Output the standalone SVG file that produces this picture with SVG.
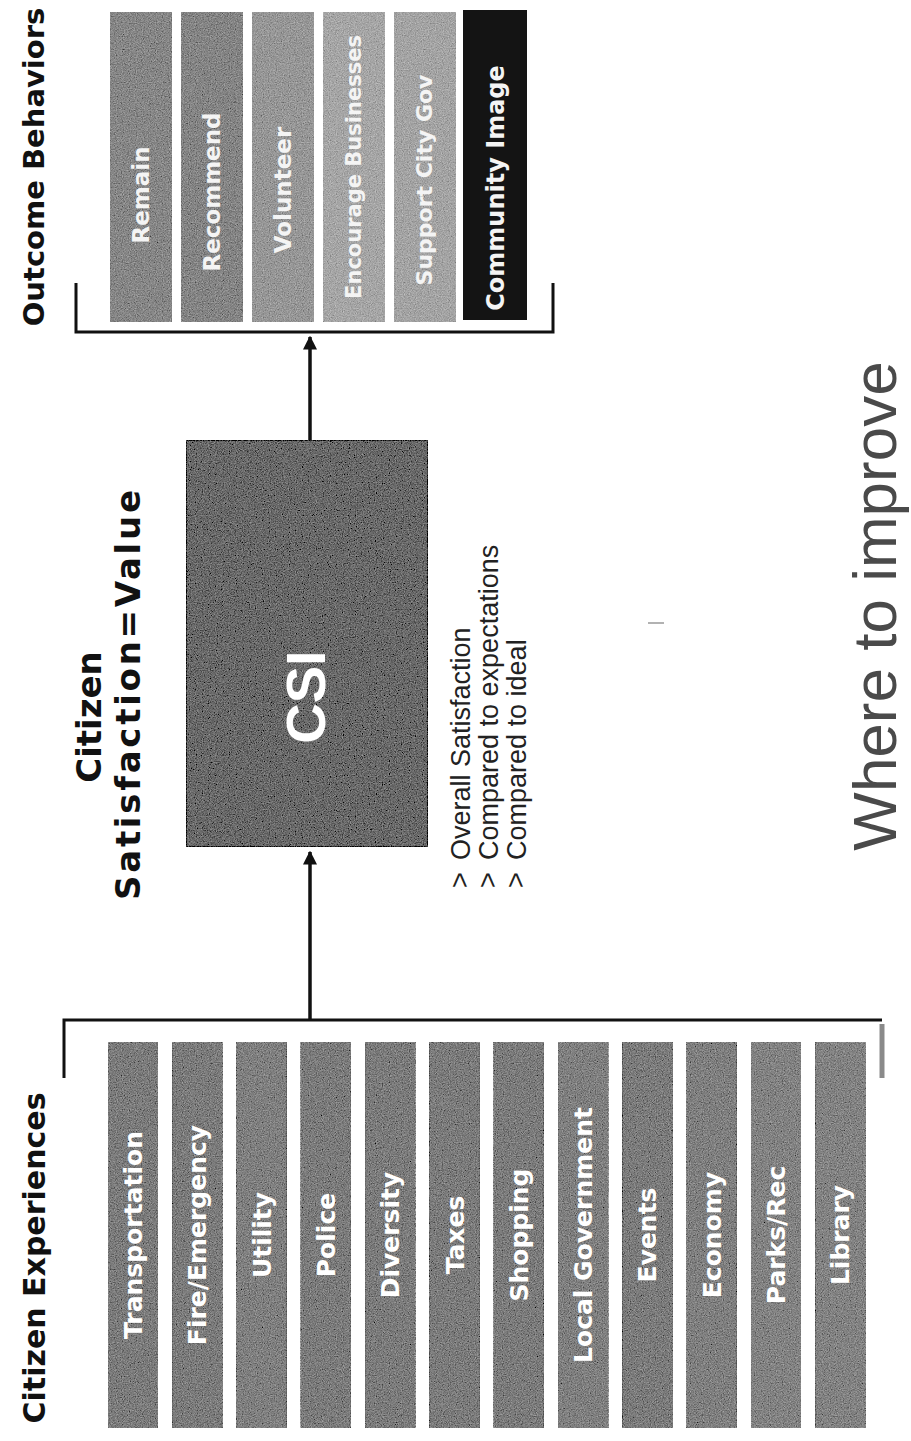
<svg xmlns="http://www.w3.org/2000/svg" width="911" height="1441" viewBox="0 0 911 1441">
<defs>
<filter id="grain" x="0" y="0" width="100%" height="100%">
<feTurbulence type="fractalNoise" baseFrequency="0.85" numOctaves="2" seed="7" result="n"/>
<feColorMatrix in="n" type="matrix" values="0.33 0.33 0.33 0 0 0.33 0.33 0.33 0 0 0.33 0.33 0.33 0 0 0 0 0 0 1" result="g"/>
<feComposite in="SourceGraphic" in2="g" operator="arithmetic" k1="0" k2="1" k3="0.8" k4="-0.4"/>
</filter>
<marker id="arr" viewBox="0 0 10 10" refX="9" refY="5" markerWidth="4" markerHeight="4" orient="auto" markerUnits="strokeWidth">
<path d="M0,0 L10,5 L0,10 z" fill="#111"/>
</marker>
</defs>
<style>
.title{font-family:"DejaVu Sans",Verdana,sans-serif;font-weight:bold;font-size:29px;fill:#111;text-anchor:middle}
.bar{filter:url(#grain)}
.lbl{font-family:"DejaVu Sans",Verdana,sans-serif;font-weight:bold;font-size:25px;fill:#fff;text-anchor:middle}
.olbl{font-family:"DejaVu Sans",Verdana,sans-serif;font-weight:bold;font-size:23px;fill:#f4f4f4;text-anchor:middle}
.bul{font-family:"Liberation Sans",Arial,sans-serif;font-size:27px;fill:#222}
.line{stroke:#111;stroke-width:3;fill:none}
.arrow{stroke:#111;stroke-width:3.5;fill:none;marker-end:url(#arr)}
</style>
<rect width="911" height="1441" fill="#ffffff"/>

<g id="titles">
<text class="title" transform="translate(44,167) rotate(-90)">Outcome Behaviors</text>
<text class="title" style="font-size:34px" transform="translate(101,717) rotate(-90)">Citizen</text>
<text class="title" style="font-size:34px" transform="translate(140,695) rotate(-90)" textLength="410" lengthAdjust="spacing">Satisfaction=Value</text>
<text class="title" style="font-size:30px" transform="translate(45,1258) rotate(-90)">Citizen Experiences</text>
</g>

<g id="outcomes">
<g id="o-remain"><rect class="bar" x="110" y="12" width="62" height="310" fill="#878787"/><text class="olbl" transform="translate(149,195) rotate(-90)">Remain</text></g>
<g id="o-recommend"><rect class="bar" x="181" y="12" width="62" height="310" fill="#858585"/><text class="olbl" transform="translate(220,192) rotate(-90)">Recommend</text></g>
<g id="o-volunteer"><rect class="bar" x="252" y="12" width="62" height="310" fill="#979797"/><text class="olbl" transform="translate(291,190) rotate(-90)">Volunteer</text></g>
<g id="o-encourage"><rect class="bar" x="323" y="12" width="62" height="310" fill="#a6a6a6"/><text class="olbl" style="font-size:21px" transform="translate(361,167) rotate(-90)" fill="#e6e6e6">Encourage Businesses</text></g>
<g id="o-support"><rect class="bar" x="394" y="12" width="62" height="310" fill="#a4a4a4"/><text class="olbl" style="font-size:22px" transform="translate(432,180) rotate(-90)" fill="#e6e6e6">Support City Gov</text></g>
<g id="o-community"><rect x="463" y="10" width="64" height="310" fill="#141414"/><text class="olbl" style="font-size:24px" transform="translate(504,188) rotate(-90)" fill="#ffffff">Community Image</text></g>
</g>

<g id="csi">
<rect class="bar" x="186" y="440" width="242" height="407" fill="#6a6a6a" stroke="#222" stroke-width="2"/>
<text transform="translate(325,697) rotate(-90)" font-family="Liberation Sans, Arial, sans-serif" font-weight="bold" font-size="56" fill="#ffffff" text-anchor="middle">CSI</text>
</g>

<g id="csi-notes">
<text class="bul" font-size="20" transform="translate(469,880) rotate(-90)" text-anchor="middle">&gt;</text>
<text class="bul" transform="translate(470,860) rotate(-90)">Overall Satisfaction</text>
<text class="bul" font-size="20" transform="translate(497,880) rotate(-90)" text-anchor="middle">&gt;</text>
<text class="bul" transform="translate(498,860) rotate(-90)">Compared to expectations</text>
<text class="bul" font-size="20" transform="translate(525,880) rotate(-90)" text-anchor="middle">&gt;</text>
<text class="bul" transform="translate(526,860) rotate(-90)">Compared to ideal</text>
</g>

<g id="experiences">
<g id="e1"><rect class="bar" x="108" y="1042" width="50" height="386" fill="#7c7c7c"/><text class="lbl" transform="translate(142,1235) rotate(-90)">Transportation</text></g>
<g id="e2"><rect class="bar" x="172.3" y="1042" width="50" height="386" fill="#7c7c7c"/><text class="lbl" transform="translate(206.3,1235) rotate(-90)">Fire/Emergency</text></g>
<g id="e3"><rect class="bar" x="236.6" y="1042" width="50" height="386" fill="#808080"/><text class="lbl" transform="translate(270.6,1235) rotate(-90)">Utility</text></g>
<g id="e4"><rect class="bar" x="300.9" y="1042" width="50" height="386" fill="#7c7c7c"/><text class="lbl" transform="translate(334.9,1235) rotate(-90)">Police</text></g>
<g id="e5"><rect class="bar" x="365.2" y="1042" width="50" height="386" fill="#7c7c7c"/><text class="lbl" transform="translate(399.2,1235) rotate(-90)">Diversity</text></g>
<g id="e6"><rect class="bar" x="429.5" y="1042" width="50" height="386" fill="#7c7c7c"/><text class="lbl" transform="translate(463.5,1235) rotate(-90)">Taxes</text></g>
<g id="e7"><rect class="bar" x="493.8" y="1042" width="50" height="386" fill="#7c7c7c"/><text class="lbl" transform="translate(527.8,1235) rotate(-90)">Shopping</text></g>
<g id="e8"><rect class="bar" x="558.1" y="1042" width="50" height="386" fill="#808080"/><text class="lbl" transform="translate(592.1,1235) rotate(-90)">Local Government</text></g>
<g id="e9"><rect class="bar" x="622.4" y="1042" width="50" height="386" fill="#7c7c7c"/><text class="lbl" transform="translate(656.4,1235) rotate(-90)">Events</text></g>
<g id="e10"><rect class="bar" x="686.7" y="1042" width="50" height="386" fill="#808080"/><text class="lbl" transform="translate(720.7,1235) rotate(-90)">Economy</text></g>
<g id="e11"><rect class="bar" x="751" y="1042" width="50" height="386" fill="#838383"/><text class="lbl" transform="translate(785,1235) rotate(-90)">Parks/Rec</text></g>
<g id="e12"><rect class="bar" x="815.3" y="1042" width="50" height="386" fill="#838383"/><text class="lbl" transform="translate(849.3,1235) rotate(-90)">Library</text></g>
</g>

<g id="where">
<text transform="translate(896,606) rotate(-90)" font-family="Liberation Sans, Arial, sans-serif" font-size="62" fill="#4a4a4a" text-anchor="middle">Where to improve</text>
</g>

<g id="connectors">
<polyline class="line" points="76,283 76,332 553,332 553,283"/>
<polyline class="line" points="64,1078 64,1020 882,1020"/>
<line x1="882" y1="1024" x2="882" y2="1078" stroke="#8a8a8a" stroke-width="5"/>
<line class="arrow" x1="310" y1="1020" x2="310" y2="852"/>
<line class="arrow" x1="310" y1="440" x2="310" y2="337"/>
<line x1="648" y1="623" x2="664" y2="623" stroke="#999" stroke-width="1.5"/>
</g>
</svg>
